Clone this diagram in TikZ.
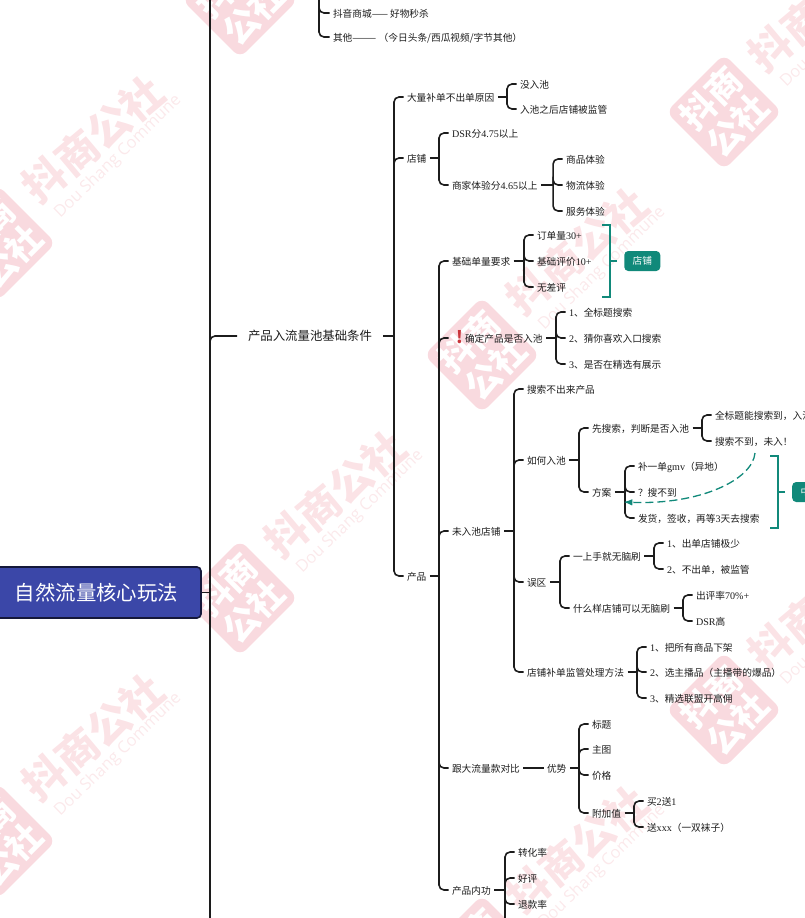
\documentclass[tikz,border=0pt]{standalone}
\usepackage{fontspec}
\usepackage{xcolor}
\setmainfont{Noto Sans CJK SC}
\newfontfamily\latfont[Scale=1.04]{Liberation Serif}
\newfontfamily\wmfont{Open Sans}
\newcommand{\lat}[1]{{\latfont #1}}
\usetikzlibrary{arrows.meta,positioning,calc}
\definecolor{inkdark}{HTML}{1C1C1C}
\definecolor{tealmark}{HTML}{11897A}
\definecolor{rootblue}{HTML}{3B47A8}
\definecolor{rootedge}{HTML}{15183A}
\definecolor{wmbadge}{HTML}{F9DADF}
\definecolor{wmtitle}{HTML}{FBE3E6}
\definecolor{wmline}{HTML}{FBE9EB}
\definecolor{warnred}{HTML}{C9343A}

\begin{document}
\begin{tikzpicture}[
  x=1pt, y=-1pt,
  >=Latex,
  every node/.style={font=\fontsize{9.7}{11}\selectfont},
  leaf/.style={inner xsep=3.5pt, inner ysep=0pt, outer sep=0pt, text height=9.3pt, text depth=0.7pt, text=inkdark},
  link/.style={draw=inkdark, line width=1.6pt, rounded corners=5pt},
  mainlink/.style={draw=inkdark, line width=2.1pt},
  bracketline/.style={draw=tealmark, line width=1.3pt},
  flowline/.style={draw=tealmark, line width=1.3pt, dash pattern=on 8pt off 4pt, ->},
  tagbox/.style={fill=tealmark, text=white, rounded corners=4pt, minimum width=36pt, minimum height=20pt, inner sep=0pt},
  rootbox/.style={draw=rootedge, line width=1.6pt, fill=rootblue, text=white, rounded corners=4pt, minimum width=209pt, minimum height=51pt, font=\fontsize{20.4}{24}\selectfont},
  badge/.style={fill=wmbadge, text=white, rotate=45, rounded corners=9pt, minimum size=82pt, inner sep=0pt, align=center, font=\fontsize{35}{38}\selectfont\bfseries},
  wmtext/.style={text=wmtitle, rotate=40, font=\fontsize{42}{46}\selectfont\bfseries},
  wmsub/.style={text=wmline, rotate=44, font=\fontsize{16.5}{20}\selectfont\wmfont}
]
\useasboundingbox (0,0) rectangle (805,918);

\foreach \x/\y [count=\i] in {-2/243, 240/0, -2/841, 240/598, 482/355, 724/112, 482/953, 724/710} {
  \node[badge] (badge\i) at (\x,\y) {抖商\\公社};
  \node[wmtext] (wmname\i) at (\x+95,\y-104) {抖商公社};
  \node[wmsub] (wmsub\i) at (\x+120,\y-86) {Dou Shang Commune};
}

\node[rootbox] (root) at (96.5,592.5) {自然流量核心玩法};

\node[leaf] (mall) at (329.5,13) [anchor=west] {抖音商城——\kern2pt 好物秒杀};
\node[leaf, below=24pt of mall.west, anchor=west] (other) {其他———\kern2.5pt（今日头条/西瓜视频/字节其他）};

\node[leaf, inner xsep=11pt, text height=10pt, text depth=0.6pt, font=\fontsize{12.4}{14}\selectfont] (pool) at (237,336) [anchor=west] {产品入流量池基础条件};

\node[leaf, above right=239pt and 20.5pt of pool.east, anchor=west] (bigorder) {大量补单不出单原因};
\node[leaf, above right=13pt and 18.7pt of bigorder.east, anchor=west] (nopool) {没入池};
\node[leaf, below=25pt of nopool.west, anchor=west] (watched) {入池之后店铺被监管};

\node[leaf, below=61pt of bigorder.west, anchor=west] (shop) {店铺};
\node[leaf, above right=25pt and 18.6pt of shop.east, anchor=west] (dsr) {\lat{DSR}分\lat{4.75}以上};
\node[leaf, below=52pt of dsr.west, anchor=west] (merchant) {商家体验分\lat{4.65}以上};
\node[leaf, above right=26pt and 21.5pt of merchant.east, anchor=west] (goodsexp) {商品体验};
\node[leaf, below=26pt of goodsexp.west, anchor=west] (shipexp) {物流体验};
\node[leaf, below=26pt of shipexp.west, anchor=west] (serviceexp) {服务体验};

\node[leaf, below=418pt of shop.west, anchor=west] (product) {产品};
\node[leaf, above right=315pt and 18.6pt of product.east, anchor=west] (base) {基础单量要求};
\node[leaf, above right=26pt and 19.8pt of base.east, anchor=west] (orders) {订单量\lat{30+}};
\node[leaf, below=26pt of orders.west, anchor=west] (reviews) {基础评价\lat{10+}};
\node[leaf, below=26pt of reviews.west, anchor=west] (nobad) {无差评};
\node[tagbox, right=29pt of reviews.east, anchor=west] (shoptag) {店铺};

\node[leaf, below=77pt of base.west, anchor=west] (confirm) {\makebox[13pt][l]{\hspace{4pt}\smash{\raisebox{-1.5pt}{\textcolor{warnred}{\fontsize{17}{17}\selectfont\bfseries !}}}}确定产品是否入池};
\node[leaf, above right=26pt and 19.4pt of confirm.east, anchor=west] (titlesearch) {\lat{1}、全标题搜索};
\node[leaf, below=26pt of titlesearch.west, anchor=west] (guesssearch) {\lat{2}、猜你喜欢入口搜索};
\node[leaf, below=26pt of guesssearch.west, anchor=west] (featured) {\lat{3}、是否在精选有展示};

\node[leaf, below=193pt of confirm.west, anchor=west] (unpool) {未入池店铺};
\node[leaf, above right=142pt and 19.5pt of unpool.east, anchor=west] (nofind) {搜索不出来产品};
\node[leaf, below=71pt of nofind.west, anchor=west] (how) {如何入池};
\node[leaf, above right=32pt and 19.2pt of how.east, anchor=west] (first) {先搜索，判断是否入池};
\node[leaf, above right=13pt and 19pt of first.east, anchor=west] (found) {全标题能搜索到，入池};
\node[leaf, below=26pt of found.west, anchor=west] (notfound) {搜索不到，未入！};
\node[leaf, below=64pt of first.west, anchor=west] (plan) {方案};
\node[leaf, above right=26pt and 19.6pt of plan.east, anchor=west] (gmv) {补一单\lat{gmv}（异地）};
\node[leaf, below=26pt of gmv.west, anchor=west] (qna) {？搜不到};
\node[leaf, below=26pt of qna.west, anchor=west] (ship) {发货，签收，再等\lat{3}天去搜索};
\node[tagbox, right=111.7pt of qna.east, anchor=west] (midtag) {\makebox[19.4pt][l]{中}};

\node[leaf, below=122pt of how.west, anchor=west] (myth) {误区};
\node[leaf, above right=26pt and 19.6pt of myth.east, anchor=west] (blind) {一上手就无脑刷};
\node[leaf, above right=13pt and 19.1pt of blind.east, anchor=west] (fewshop) {\lat{1}、出单店铺极少};
\node[leaf, below=26pt of fewshop.west, anchor=west] (noorder) {\lat{2}、不出单，被监管};
\node[leaf, below=52pt of blind.west, anchor=west] (whichshop) {什么样店铺可以无脑刷};
\node[leaf, above right=13pt and 19pt of whichshop.east, anchor=west] (rate) {出评率\lat{70\%+}};
\node[leaf, below=26pt of rate.west, anchor=west] (dsrhigh) {\lat{DSR}高};

\node[leaf, below=90pt of myth.west, anchor=west] (method) {店铺补单监管处理方法};
\node[leaf, above right=25pt and 19pt of method.east, anchor=west] (offshelf) {\lat{1}、把所有商品下架};
\node[leaf, below=25pt of offshelf.west, anchor=west] (hostitem) {\lat{2}、选主播品（主播带的爆品）};
\node[leaf, below=26pt of hostitem.west, anchor=west] (alliance) {\lat{3}、精选联盟开高佣};

\node[leaf, below=237pt of unpool.west, anchor=west] (compare) {跟大流量款对比};
\node[leaf, right=20.1pt of compare.east, anchor=west] (edge) {优势};
\node[leaf, above right=44pt and 18.6pt of edge.east, anchor=west] (titleitem) {标题};
\node[leaf, below=25pt of titleitem.west, anchor=west] (mainpic) {主图};
\node[leaf, below=26pt of mainpic.west, anchor=west] (price) {价格};
\node[leaf, below=38pt of price.west, anchor=west] (extra) {附加值};
\node[leaf, above right=12pt and 18.9pt of extra.east, anchor=west] (buytwo) {买\lat{2}送\lat{1}};
\node[leaf, below=26pt of buytwo.west, anchor=west] (socks) {送\lat{xxx}（一双袜子）};

\node[leaf, below=122pt of compare.west, anchor=west] (inner) {产品内功};
\node[leaf, above right=38pt and 20.2pt of inner.east, anchor=west] (convert) {转化率};
\node[leaf, below=26pt of convert.west, anchor=west] (praise) {好评};
\node[leaf, below=26pt of praise.west, anchor=west] (refund) {退款率};

\coordinate (spinetop) at (210,-5);
\coordinate (spinebot) at (210,925);
\coordinate (malltop) at (319,-5);
\coordinate (innerbot) at (505,925);

\draw[mainlink] (spinetop) -- (spinebot);
\draw[link, line width=1.4pt] (root.east) -- (root.east -| spinetop);
\draw[link] (root.east -| spinetop) |- (pool.west);
\draw[link] (malltop) |- (mall.west);
\draw[link] (malltop) |- (other.west);
\draw[link] (compare) -- (edge);

\foreach \p/\s/\kids in {
  pool/11/{bigorder,shop,product},
  bigorder/9.2/{nopool,watched},
  shop/9.1/{dsr,merchant},
  merchant/12/{goodsexp,shipexp,serviceexp},
  product/9.1/{base,confirm,unpool,compare,inner},
  base/10.3/{orders,reviews,nobad},
  confirm/9.9/{titlesearch,guesssearch,featured},
  unpool/10/{nofind,how,myth,method},
  how/9.7/{first,plan},
  first/9.5/{found,notfound},
  plan/10.1/{gmv,qna,ship},
  myth/10.1/{blind,whichshop},
  blind/9.6/{fewshop,noorder},
  whichshop/9.5/{rate,dsrhigh},
  method/9.5/{offshelf,hostitem,alliance},
  edge/9.1/{titleitem,mainpic,price,extra},
  extra/9.4/{buytwo,socks},
  inner/10.7/{convert,praise,refund}} {
  \draw[link] (\p.east) -- ++(\s pt,0) coordinate (joint);
  \foreach \c in \kids \draw[link] (joint) |- (\c.west);
}
\draw[link] (inner.east) ++(10.7pt,0) -- (innerbot);

\foreach \t in {shoptag,midtag} {
  \draw[bracketline] ($(\t.west)+(-7pt,0pt)$) -- ++(-7pt,0pt) ++(-8pt,36pt) -- ++(8pt,0pt) -- ++(0pt,-72pt) -- ++(-8pt,0pt);
}

\draw[flowline] ($(notfound.south west)+(43.5,7)$) .. controls ($(notfound.south west)+(41,34)$) and ($(qna.south west)+(65,8)$) .. ($(qna.south west)+(-11,5)$);
\end{tikzpicture}
\end{document}
